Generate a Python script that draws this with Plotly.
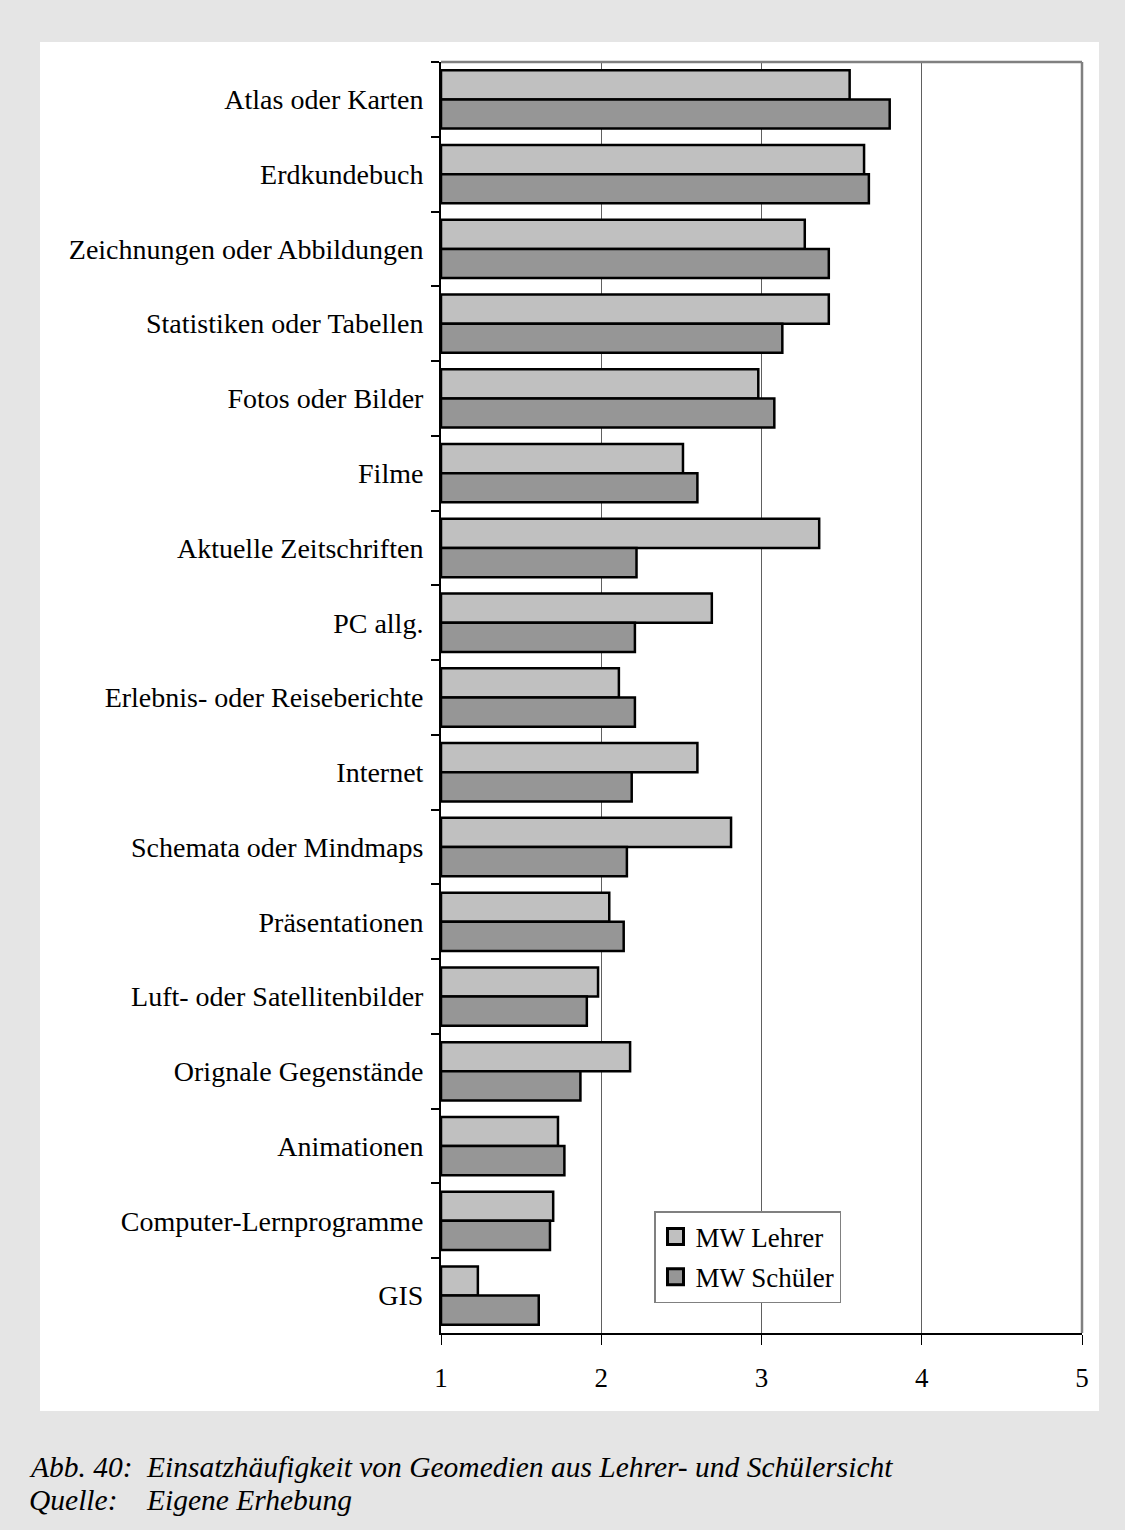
import plotly.graph_objects as go

# Mittelwerte der Einsatzhäufigkeit (1 = nie ... 5 = sehr oft), von oben nach unten
categories = [
    "Atlas oder Karten", "Erdkundebuch", "Zeichnungen oder Abbildungen",
    "Statistiken oder Tabellen", "Fotos oder Bilder", "Filme",
    "Aktuelle Zeitschriften", "PC allg.", "Erlebnis- oder Reiseberichte",
    "Internet", "Schemata oder Mindmaps", "Präsentationen",
    "Luft- oder Satellitenbilder", "Orignale Gegenstände", "Animationen",
    "Computer-Lernprogramme", "GIS",
]
mw_lehrer = [3.55, 3.64, 3.27, 3.42, 2.98, 2.51, 3.36, 2.69, 2.11, 2.60,
             2.81, 2.05, 1.98, 2.18, 1.73, 1.70, 1.23]
mw_schueler = [3.80, 3.67, 3.42, 3.13, 3.08, 2.60, 2.22, 2.21, 2.21, 2.19,
               2.16, 2.14, 1.91, 1.87, 1.77, 1.68, 1.61]
x_ticks = [1, 2, 3, 4, 5]

W, H = 1125, 1530
L, R, T, B = 441, 43, 62, 197
pw, ph = W - L - R, H - T - B

def px_x(x):
    return (x - L) / pw

def px_y(y):
    return (H - B - y) / ph

serif = "Liberation Serif, Times New Roman, serif"
light, dark = "#C0C0C0", "#969696"

fig = go.Figure()
fig.add_trace(go.Bar(
    y=categories, x=[v - 1 for v in mw_lehrer], base=1, orientation="h",
    name="MW Lehrer", showlegend=False,
    marker=dict(color=light, line=dict(color="black", width=2.5)),
))
fig.add_trace(go.Bar(
    y=categories, x=[v - 1 for v in mw_schueler], base=1, orientation="h",
    name="MW Schüler", showlegend=False,
    marker=dict(color=dark, line=dict(color="black", width=2.5)),
))
# Legendeneinträge mit größeren Quadraten
for name, col in [("MW Lehrer", light), ("MW Schüler", dark)]:
    fig.add_trace(go.Scatter(
        x=[None], y=[None], mode="markers", name=name, legendgroup=name,
        marker=dict(symbol="square", size=18, color=col, line=dict(color="black", width=3)),
    ))

# weißes Innenfeld
fig.add_shape(type="rect", xref="paper", yref="paper",
              x0=px_x(40), x1=px_x(1099), y0=px_y(1411), y1=px_y(42),
              fillcolor="white", line=dict(width=0), layer="below")
# graue Rahmenlinien oben und rechts
fig.add_shape(type="line", xref="paper", yref="paper", x0=0, x1=1, y0=1, y1=1,
              line=dict(color="#808080", width=2.5))
fig.add_shape(type="line", xref="paper", yref="paper", x0=1, x1=1, y0=0, y1=1,
              line=dict(color="#808080", width=2.5))

caption = [
    (27, 1467, "Abb. 40:"),
    (144, 1467, "Einsatzhäufigkeit von Geomedien aus Lehrer- und Schülersicht"),
    (27, 1500, "Quelle:"),
    (144, 1500, "Eigene Erhebung"),
]
for cx, cy, txt in caption:
    fig.add_annotation(xref="paper", yref="paper", x=px_x(cx), y=px_y(cy),
                       text=f"<i>{txt}</i>", showarrow=False, xanchor="left",
                       yanchor="middle",
                       font=dict(family=serif, size=29.5, color="black"))

fig.update_layout(
    width=W, height=H,
    margin=dict(l=L, r=R, t=T, b=B),
    paper_bgcolor="#E5E5E5", plot_bgcolor="white",
    barmode="group", bargap=0.22, bargroupgap=0,
    font=dict(family=serif, size=28, color="black"),
    showlegend=True,
    legend=dict(x=px_x(654), y=px_y(1211), xanchor="left", yanchor="top",
                bgcolor="white", bordercolor="#808080", borderwidth=1.5,
                font=dict(family=serif, size=27), tracegroupgap=2,
                itemwidth=30),
)
fig.update_xaxes(range=[1, 5], tickvals=x_ticks, showgrid=True, gridcolor="#606060",
                 gridwidth=1, showline=True, linecolor="black", linewidth=2,
                 ticks="outside", ticklen=10, tickcolor="black", tickwidth=1,
                 zeroline=False, ticklabelstandoff=10, tickfont=dict(size=27))
fig.update_yaxes(autorange="reversed", showline=True, linecolor="black", linewidth=2,
                 ticks="outside", tickson="boundaries", ticklen=8, tickcolor="black",
                 tickwidth=1.5, showgrid=False, ticklabelstandoff=10,
                 tickfont=dict(size=28))

fig.write_html("out.html", config={"displayModeBar": False},
               post_script="document.body.style.margin='0';")
